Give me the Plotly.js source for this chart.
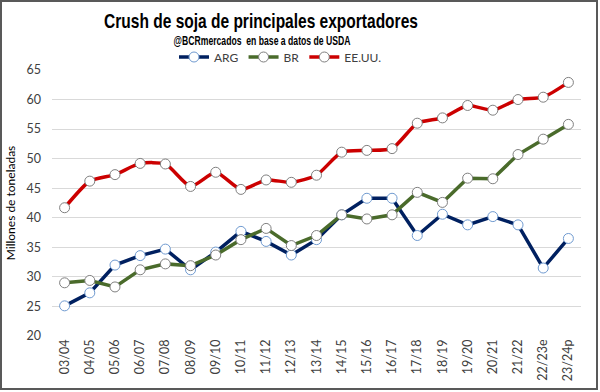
<!DOCTYPE html>
<html>
<head>
<meta charset="utf-8">
<script src="https://cdn.plot.ly/plotly-3.0.1.min.js"></script>
<style>
  body { margin: 0; padding: 0; background: #fff; }
  #wrap { position: relative; width: 600px; height: 392px; }
  #chart { width: 600px; height: 392px; }
  #frame { position: absolute; left: 0; top: 0; width: 598px; height: 390px; box-sizing: border-box; border: 2px solid #595959; pointer-events: none; }
</style>
</head>
<body>
<div id="wrap"><div id="chart"></div><div id="frame"></div></div>
<script>
const campaigns = ["03/04","04/05","05/06","06/07","07/08","08/09","09/10","10/11","11/12","12/13","13/14","14/15","15/16","16/17","17/18","18/19","19/20","20/21","21/22","22/23e","23/24p"];
const arg = [25.1, 27.3, 32.0, 33.6, 34.7, 31.2, 34.2, 37.7, 36.0, 33.7, 36.3, 40.5, 43.3, 43.3, 37.0, 40.6, 38.8, 40.2, 38.8, 31.5, 36.5];
const br  = [29.0, 29.4, 28.3, 31.2, 32.2, 31.9, 33.7, 36.3, 38.2, 35.3, 37.0, 40.5, 39.8, 40.5, 44.3, 42.6, 46.7, 46.6, 50.7, 53.3, 55.8];
const eeuu = [41.7, 46.2, 47.3, 49.2, 49.1, 45.3, 47.7, 44.8, 46.4, 46.0, 47.2, 51.1, 51.4, 51.7, 56.0, 56.9, 59.0, 58.2, 60.0, 60.4, 62.9];
const yTicks = [20, 25, 30, 35, 40, 45, 50, 55, 60, 65];

const traces = [
  { x: campaigns, y: arg, name: "ARG", type: "scatter", mode: "lines+markers",
    line: { color: "#002060", width: 3.5 },
    marker: { symbol: "circle", size: 10, color: "#ffffff", line: { color: "#6f9ad0", width: 1 } } },
  { x: campaigns, y: br, name: "BR", type: "scatter", mode: "lines+markers",
    line: { color: "#4a6b2b", width: 3.5 },
    marker: { symbol: "circle", size: 10, color: "#ffffff", line: { color: "#7f7f7f", width: 1 } } },
  { x: campaigns, y: eeuu, name: "EE.UU.", type: "scatter", mode: "lines+markers",
    line: { color: "#cc0000", width: 3.5, shape: "spline", smoothing: 0.6 },
    marker: { symbol: "circle", size: 10, color: "#ffffff", line: { color: "#7f7f7f", width: 1 } } }
];

const layout = {
  width: 600, height: 392,
  margin: { l: 52, r: 19, t: 70, b: 56 },
  paper_bgcolor: "#ffffff", plot_bgcolor: "#ffffff",
  font: { family: "Lato, 'Liberation Sans', sans-serif", color: "#404040", size: 12 },
  title: { text: "<b>Crush de soja de principales exportadores</b>",
    font: { family: "'Liberation Sans', sans-serif", size: 21, color: "#000000" },
    xref: "container", x: 261 / 600, xanchor: "center", y: 1 - 21 / 392, yanchor: "middle" },
  annotations: [{ text: "<b>@BCRmercados  en base a datos de USDA</b>", xref: "paper", yref: "paper",
    x: (262 - 52) / 529, y: 1 + (70 - 41) / 266, xanchor: "center", yanchor: "middle", showarrow: false,
    font: { family: "'Liberation Sans', sans-serif", size: 12.5, color: "#000000" } }],
  showlegend: true,
  legend: { orientation: "h", x: (174 - 52) / 529, xanchor: "left", y: 1 + (70 - 57) / 266, yanchor: "middle",
    font: { family: "Lato, 'Liberation Sans', sans-serif", size: 12, color: "#404040" },
    itemwidth: 30, traceorder: "normal" },
  xaxis: { type: "category", tickangle: -90, showgrid: false, zeroline: false, showline: false,
    ticks: "", tickfont: { size: 12.5, color: "#404040" }, range: [-0.5, campaigns.length - 0.5] },
  yaxis: { range: [20, 65], tickvals: yTicks, ticktext: yTicks.map(String), showgrid: true,
    gridcolor: "#d9d9d9", gridwidth: 1, zeroline: false, showline: false, ticks: "",
    ticklabelstandoff: 10, tickfont: { size: 12.5, color: "#404040" },
    title: { text: "Millones de toneladas", font: { size: 12, color: "#000000" }, standoff: 8 } }
};

function condense(el, targetWidth) {
  if (!el) return;
  const bb = el.getBBox();
  if (!bb.width) return;
  const s = targetWidth / bb.width;
  const cx = bb.x + bb.width / 2;
  el.setAttribute("transform", "translate(" + cx + ",0) scale(" + s + ",1) translate(" + (-cx) + ",0)");
}

Plotly.newPlot("chart", traces, layout, { displayModeBar: false, staticPlot: true }).then(function (gd) {
  condense(gd.querySelector(".gtitle"), 314);
  condense(gd.querySelector(".annotation-text"), 177);
});
</script>
</body>
</html>
